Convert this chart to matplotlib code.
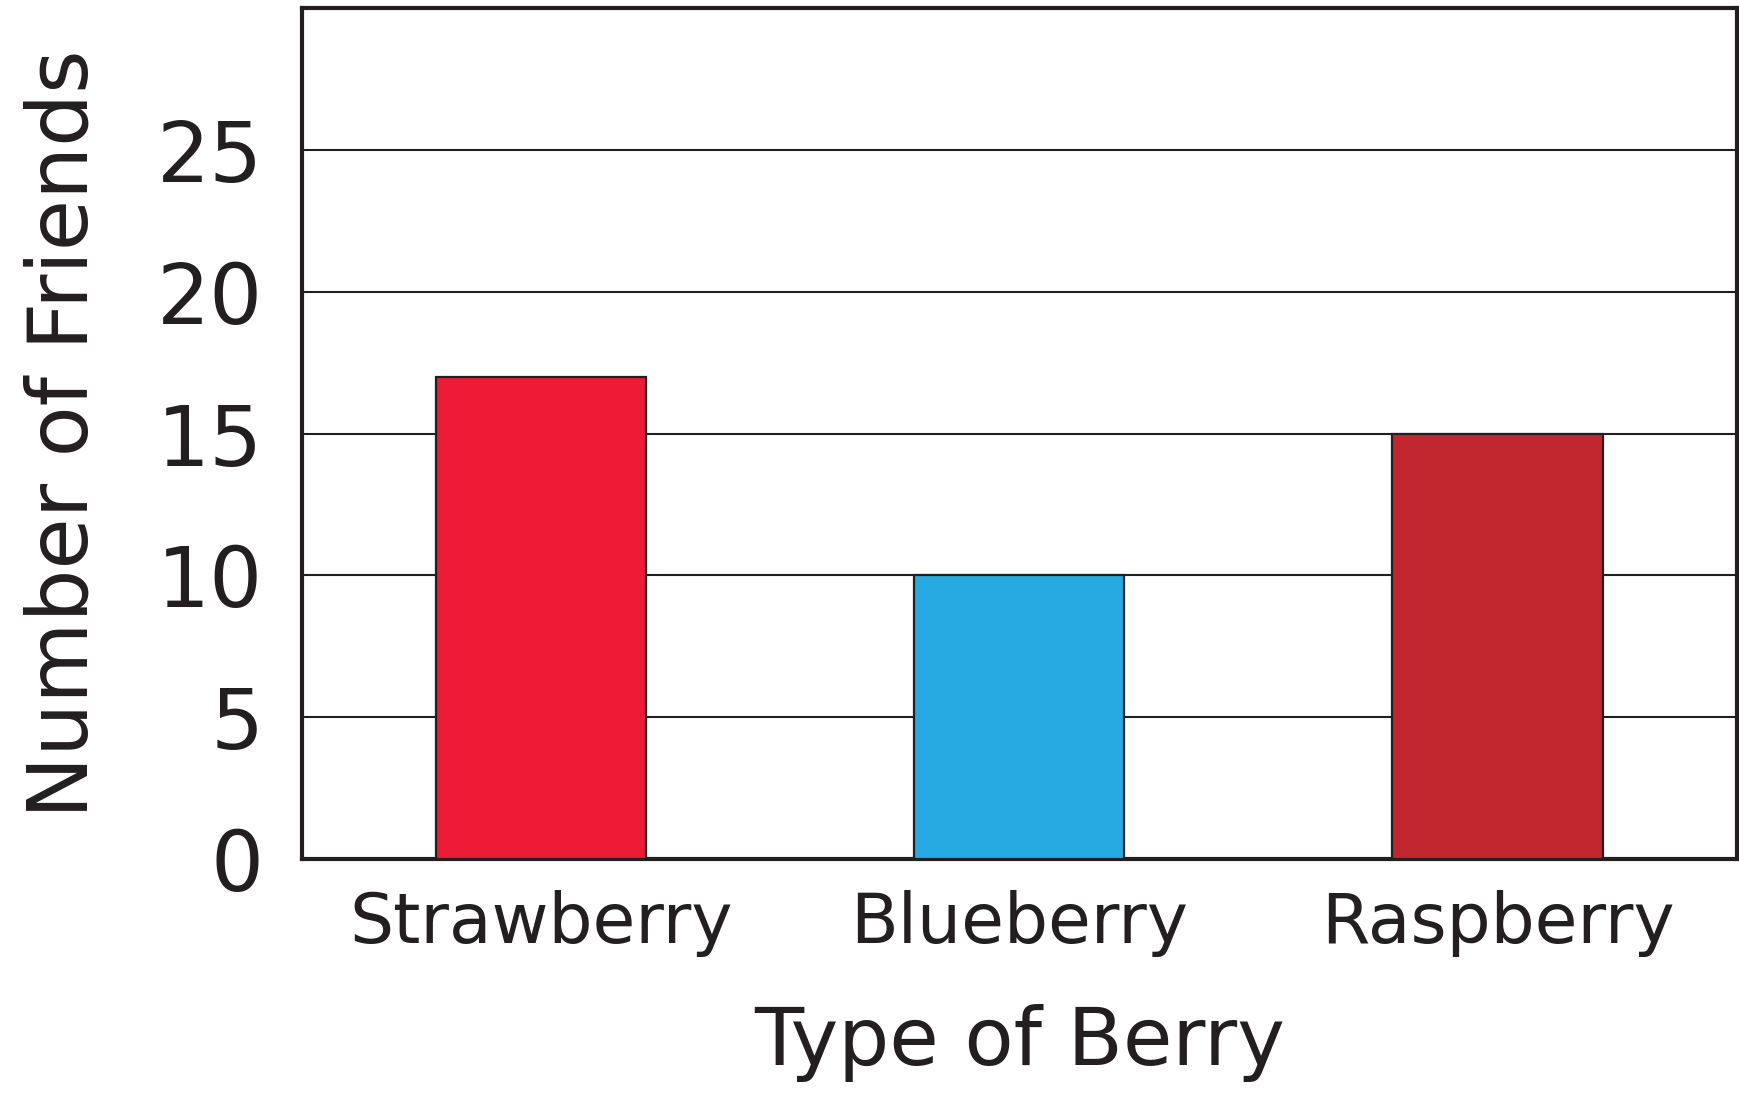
import matplotlib.pyplot as plt

BERRIES = ['Strawberry', 'Blueberry', 'Raspberry']
FRIENDS = [17, 10, 15]
BAR_COLORS = ['#ED1C36', '#27AAE1', '#C1272F']
Y_TICKS = [0, 5, 10, 15, 20, 25]
EDGE = '#231F20'

plt.rcParams['font.family'] = ['DejaVu Sans']


def do_plot():
    fig = plt.figure(figsize=(17.4, 10.99), dpi=100)
    ax = fig.add_axes([0.1736, 0.2184, 0.8244, 0.7743])

    x = range(len(BERRIES))
    ax.bar(x, FRIENDS, width=0.44, color=BAR_COLORS, edgecolor=EDGE,
           linewidth=1.6, zorder=3)

    ax.set_xlim(-0.5, 2.5)
    ax.set_ylim(0, 30)
    ax.set_yticks(Y_TICKS)
    ax.set_xticks(list(x))
    ax.set_xticklabels(BERRIES)
    ax.tick_params(axis='y', length=0, pad=28, labelsize=60, colors=EDGE)
    ax.tick_params(axis='x', length=0, pad=22, labelsize=50, colors=EDGE)
    ax.yaxis.grid(True, color=EDGE, linewidth=1.5, zorder=1)
    ax.set_axisbelow(True)
    for side in ['top', 'bottom', 'left', 'right']:
        ax.spines[side].set_linewidth(3)
        ax.spines[side].set_color(EDGE)

    ax.set_xlabel('Type of Berry', fontsize=58, color=EDGE, labelpad=34)
    ax.set_ylabel('Number of Friends', fontsize=60, color=EDGE, labelpad=38)

    fig.savefig('out.png', dpi=100)


if __name__ == '__main__':
    do_plot()
